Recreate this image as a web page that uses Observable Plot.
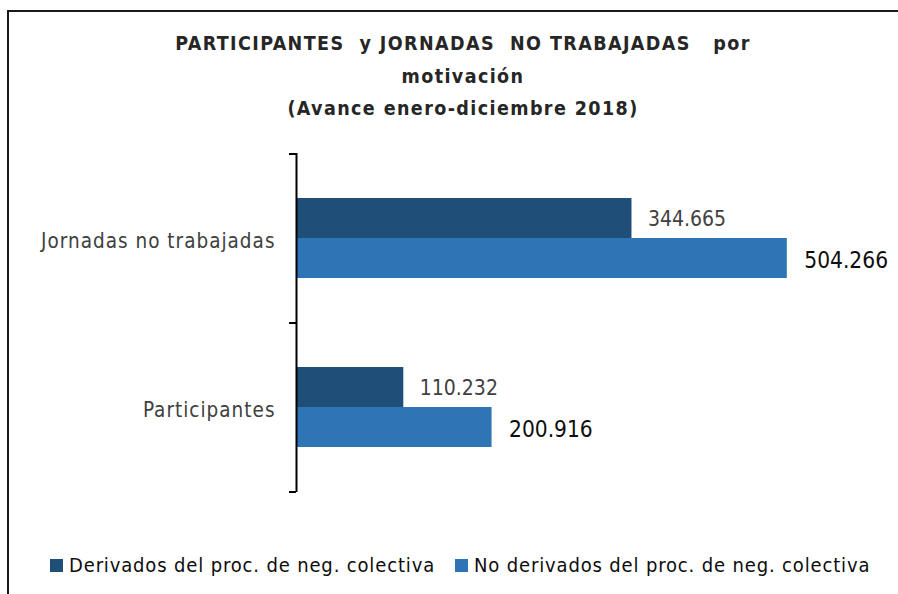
<!DOCTYPE html>
<html><head><meta charset="utf-8">
<script src="https://cdn.jsdelivr.net/npm/d3@7"></script>
<script src="https://cdn.jsdelivr.net/npm/@observablehq/plot@0.6"></script>
<style>
html,body{margin:0;padding:0;background:#fff;overflow:hidden;width:898px;height:594px;}
body{font-family:"DejaVu Sans Condensed","Liberation Sans Narrow",Arial,sans-serif;}
#frame{position:absolute;left:7px;top:10px;width:1000px;height:700px;border:2px solid #1a1a1a;}
#title{position:absolute;left:0;top:28px;width:926px;text-align:center;font-weight:bold;font-size:19.5px;color:#262626;line-height:32.5px;white-space:pre;letter-spacing:1.4px;}
#chart{position:absolute;left:0;top:130px;}
#legend{position:absolute;left:50px;top:553px;height:24px;font-size:20px;color:#0d0d0d;white-space:nowrap;display:flex;align-items:center;}
.sw{display:inline-block;width:13px;height:13px;margin-right:6px;}
.item{display:flex;align-items:center;margin-right:20px;letter-spacing:0.85px;}
</style></head>
<body>
<div id="frame"></div>
<div id="title">PARTICIPANTES  y JORNADAS  NO TRABAJADAS   por
motivación
(Avance enero-diciembre 2018)</div>
<div id="chart"></div>
<div id="legend"></div>
<script>
const categories = ["Jornadas no trabajadas", "Participantes"];
const seriesNames = ["Derivados del proc. de neg. colectiva", "No derivados del proc. de neg. colectiva"];
const derivados = [344665, 110232];
const noDerivados = [504266, 200916];
const colors = ["#1f4e79", "#2e75b6"];

const fmt = d3.formatLocale({decimal: ",", thousands: ".", grouping: [3], currency: ["", ""]}).format(",d");

const data = [];
categories.forEach((c, i) => {
  data.push({cat: c, series: seriesNames[0], value: derivados[i]});
  data.push({cat: c, series: seriesNames[1], value: noDerivados[i]});
});
const d0 = data.filter(d => d.series === seriesNames[0]);
const d1 = data.filter(d => d.series === seriesNames[1]);

const chart = Plot.plot({
  width: 898,
  height: 380,
  marginLeft: 296,
  marginRight: 18,
  marginTop: 23,
  marginBottom: 18,
  style: {fontFamily: "'DejaVu Sans Condensed','Liberation Sans Narrow',Arial,sans-serif", background: "transparent"},
  x: {domain: [0, 600000], axis: null},
  y: {domain: categories, padding: 0, axis: null},
  marks: [
    Plot.barX(d0, {x: "value", y: "cat", fill: colors[0], insetTop: 44, insetBottom: 85}),
    Plot.barX(d1, {x: "value", y: "cat", fill: colors[1], insetTop: 84, insetBottom: 45}),
    Plot.text(d0, {x: "value", y: "cat", text: d => fmt(d.value), dx: 16, dy: -20, textAnchor: "start", fontSize: 21, fill: "#404040"}),
    Plot.text(d1, {x: "value", y: "cat", text: d => fmt(d.value), dx: 17, dy: 22, textAnchor: "start", fontSize: 22.5, fill: "#0d0d0d"}),
    Plot.axisY({tickSize: 0, tickPadding: 21, fontSize: 20.5, fill: "#404040", dy: 2, label: null}),
    Plot.ruleX([0], {stroke: "#000", strokeWidth: 2})
  ]
});
document.getElementById("chart").appendChild(chart);

const svg = d3.select(chart);
svg.selectAll('g[aria-label="y-axis tick label"] text').style("letter-spacing", "1px");

// category boundary ticks derived from the y band scale
const ys = chart.scale("y");
const xs = chart.scale("x");
const bounds = new Set();
categories.forEach(c => { const s = ys.apply(c); bounds.add(s); bounds.add(s + ys.bandwidth); });
const x0 = xs.apply(0);
svg.append("g").selectAll("line").data([...bounds]).join("line")
  .attr("x1", x0 - 7).attr("x2", x0).attr("y1", d => d).attr("y2", d => d)
  .attr("stroke", "#000").attr("stroke-width", 2);

const legend = document.getElementById("legend");
seriesNames.forEach((s, i) => {
  const it = document.createElement("div");
  it.className = "item";
  it.innerHTML = `<span class="sw" style="background:${colors[i]}"></span><span>${s}</span>`;
  legend.appendChild(it);
});
</script>
</body></html>
